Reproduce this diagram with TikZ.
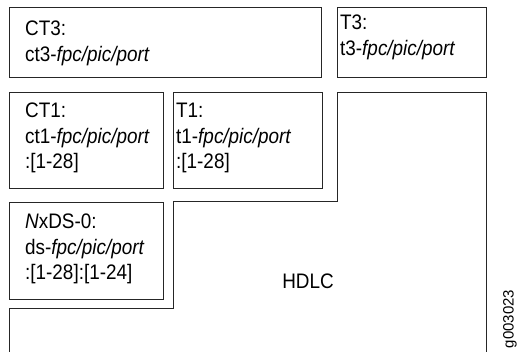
\documentclass[tikz,border=0pt]{standalone}
\usepackage{fontspec}
\setmainfont{Liberation Sans}

\begin{document}
\begin{tikzpicture}[x=1pt, y=-1pt,
boxnode/.style={rectangle, draw=black!85, line width=0.9pt, inner sep=0pt},
textnode/.style={anchor=north west, inner sep=0pt, align=left, xscale=0.9, font=\fontsize{21}{25.5}\selectfont},
]
    \useasboundingbox (0,0) rectangle (518,352);

    \node [boxnode, minimum width=312pt, minimum height=69.5pt] (ct3) at (165,42.25) {};
    \node [boxnode, minimum width=149pt, minimum height=69.5pt] (t3) at (411.5,42.25) {};

    \node [boxnode, minimum width=154pt, minimum height=96pt] (ct1) at (86,140) {};
    \node [boxnode, minimum width=149pt, minimum height=96pt] (t1) at (247.5,140) {};

    \node [boxnode, minimum width=154pt, minimum height=97pt] (nxds) at (86,250.5) {};

    \draw [black!85, line width=0.9pt] (9,352) -- (9,308) -- (173,308) -- (173,201)
        -- (337,201) -- (337,92) -- (486,92) -- (486,352);

    \node [textnode] (ct3text) at (25,21) {CT3:\\ct3-\textit{fpc/pic/port}};
    \node [textnode] (t3text) at (340,15) {T3:\\t3-\textit{fpc/pic/port}};
    \node [textnode] (ct1text) at (25,103) {CT1:\\ct1-\textit{fpc/pic/port}\\:[1-28]};
    \node [textnode] (t1text) at (176,103) {T1:\\t1-\textit{fpc/pic/port}\\:[1-28]};
    \node [textnode] (nxdstext) at (25,214) {\textit{N}xDS-0:\\ds-\textit{fpc/pic/port}\\:[1-28]:[1-24]};

    \node [xscale=0.9, font=\fontsize{21}{25}\selectfont] (hdlc) at (308,281) {HDLC};
    \node [font=\fontsize{15}{18}\selectfont, rotate=90] (fig) at (510,319) {g003023};

\end{tikzpicture}
\end{document}
